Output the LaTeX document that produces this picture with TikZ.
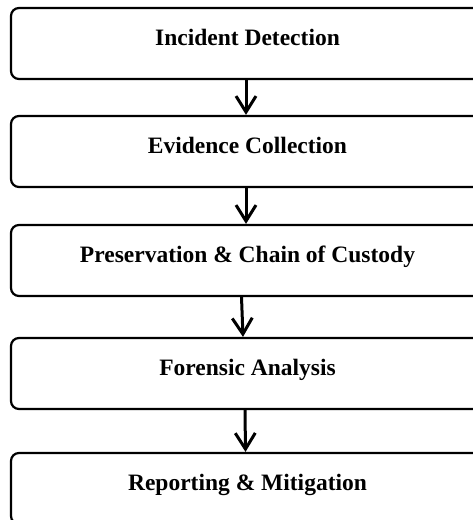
\documentclass[tikz,border=0pt]{standalone}
\usepackage{fontspec}
\setmainfont{Liberation Serif}
\usetikzlibrary{arrows.meta}

\tikzset{
  stage/.style={draw, line width=2.2pt, rounded corners=8pt, minimum width=473pt, minimum height=71pt,
    inner sep=0pt, text height=16pt, text depth=11pt, font=\fontsize{23.5}{28}\selectfont\bfseries},
  flow/.style={line width=3pt, -{Straight Barb[length=16pt,width=20pt,line width=3pt]}}
}

\begin{document}
\begin{tikzpicture}[x=1pt,y=1pt]
\useasboundingbox (0,0) rectangle (473,520);
\clip (0,0) rectangle (473,520);

\node[stage] (detect) at (247.5,476.5) {Incident Detection};
\node[stage] (collect) at (247.5,368.5) {Evidence Collection};
\node[stage] (preserve) at (247.5,259.5) {Preservation \& Chain of Custody};
\node[stage] (analyse) at (247.5,146.5) {Forensic Analysis};
\node[stage] (report) at (247.5,31.5) {Reporting \& Mitigation};

\draw[flow] ([xshift=-1.5pt]detect.south) -- ([xshift=-1.5pt]collect.north);
\draw[flow] ([xshift=-1.5pt]collect.south) -- ([xshift=-1.5pt]preserve.north);
\draw[flow] ([xshift=-6pt]preserve.south) -- ([xshift=-4.5pt]analyse.north);
\draw[flow] ([xshift=-2.5pt]analyse.south) -- ([xshift=-2pt]report.north);
\end{tikzpicture}
\end{document}
